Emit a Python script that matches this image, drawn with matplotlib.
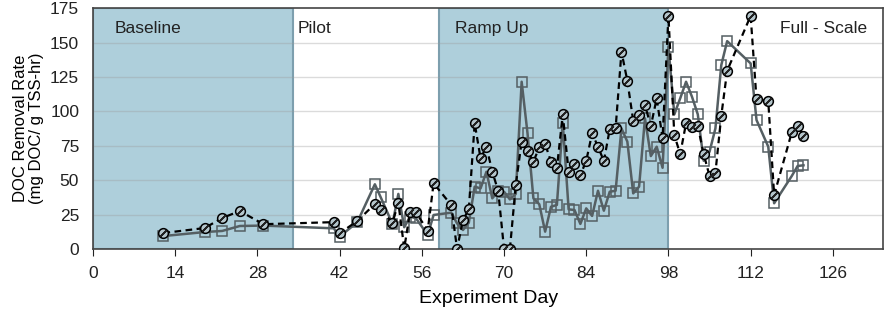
import matplotlib
matplotlib.use('Agg')
import matplotlib.pyplot as plt
import numpy as np

plt.rcParams['font.family'] = ['Liberation Sans', 'DejaVu Sans']

# 采样日 / 两条曲线 (圆点虚线, 方块实线)
days = [12, 19, 22, 25, 29, 41, 42, 45, 48, 49, 51, 52, 53, 54, 55, 57, 58,
        61, 62, 63, 64, 65, 66, 67, 68, 69, 70, 71, 72, 73, 74, 75, 76, 77, 78, 79,
        80, 81, 82, 83, 84, 85, 86, 87, 88, 89, 90, 91, 92, 93, 94, 95, 96, 97,
        98, 99, 100, 101, 102, 103, 104, 105, 106, 107, 108, 112, 113, 115, 116,
        119, 120, 121]
circ = [11.6, 15.2, 22.5, 27.6, 18, 19.5, 11.4, 20.3, 32.7, 28.3, 19.1, 33.6, 0.5, 27, 26.6, 13.3, 47.7,
        32, 0, 21, 28.8, 91.3, 65.9, 74.3, 56.1, 42.3, 0, 0, 46.7, 78, 71.4, 63.4, 73.9, 76.3, 63.4, 58.6,
        97.8, 56.1, 61.7, 53.7, 64.1, 84, 74.3, 63.9, 86.9, 87.6, 143.3, 122.2, 93.2, 97.3, 104.6, 89.3, 109.4, 80.4,
        169.4, 82.8, 69, 91.3, 88.8, 89.3, 69, 53, 55.4, 96.8, 129.5, 169.4, 108.7, 107.5, 39.2,
        84.7, 89.6, 82.3]
sq = [9.4, 12.3, 13.1, 16.7, 17, 15, 9, 19.4, 47, 37.5, 18.2, 40, 15.8, 23.5, 22.3, 10.2, 24.7,
      26.4, 18.6, 13.8, 19.1, 45.3, 44, 56.1, 36.8, 42, 41.6, 36, 40, 121.5, 84, 36.8, 32.5, 12.6, 30.7, 32,
      91.7, 28.8, 28.3, 18.2, 29.5, 24, 42.3, 27.8, 41.6, 42.3, 87.6, 78, 40.4, 45.3, 94.9, 67.5, 74.3, 59,
      147, 97.8, 109.4, 121.5, 110.7, 97.8, 64.1, 70.7, 87.6, 133.6, 151, 134.8, 93.7, 74.3, 33.2,
      53, 60.3, 60.8]

phases = ['Baseline', 'Pilot', 'Ramp Up', 'Full - Scale']
phase_text_x = [3.6, 34.8, 61.7, 117]
shaded = [(0, 34), (59, 98)]

SHADE, EDGE = '#aecfdb', '#7d9fae'
TICKFONT = ['Liberation Sans Narrow', 'Liberation Sans', 'DejaVu Sans']

fig = plt.figure(figsize=(8.86, 3.12), dpi=100)
ax = fig.add_axes([0.105, 0.202, 0.892, 0.772])

for a, b in shaded:
    ax.axvspan(a, b, facecolor=SHADE, edgecolor=EDGE, linewidth=1.5, zorder=0)
for y in range(25, 175, 25):
    ax.axhline(y, color='#9a9a9a', alpha=0.35, linewidth=1, zorder=0.5)

ax.plot(days, sq, color='#555f63', linewidth=1.8, marker='s', markersize=7,
        markerfacecolor='none', markeredgecolor='#555f63', markeredgewidth=1.1, zorder=2)
ax.plot(days, circ, color='black', linewidth=1.6, linestyle=(0, (3, 2)), marker='o', markersize=7,
        markerfacecolor='#b4c5cb', markeredgecolor='black', markeredgewidth=1.1, zorder=3)
ax.plot(days, circ, linestyle='none', marker=(2, 2, -45), markersize=6.5,
        markeredgecolor='#222222', markeredgewidth=1.2, zorder=4)

for name, x in zip(phases, phase_text_x):
    ax.text(x, 160.5, name, fontsize=12.5, color='#222222', va='center', zorder=5)

ax.set_xlim(0, 134.6)
ax.set_ylim(0, 175)
ax.set_xticks(np.arange(0, 127, 14))
ax.set_yticks(np.arange(0, 176, 25))
ax.tick_params(axis='x', direction='out', length=5, labelsize=12.5, pad=7, colors='#222222')
ax.tick_params(axis='y', length=0, labelsize=12.5, pad=10, colors='#222222')
for lab in ax.get_xticklabels() + ax.get_yticklabels():
    lab.set_family(TICKFONT)
for s in ax.spines.values():
    s.set_color('#444444'); s.set_linewidth(1.2)
ax.set_xlabel('Experiment Day', fontsize=14, labelpad=7)
ax.set_ylabel('DOC Removal Rate\n(mg DOC/ g TSS-hr)', fontsize=12, labelpad=4, linespacing=1.15)

fig.savefig('out.png', dpi=100)
